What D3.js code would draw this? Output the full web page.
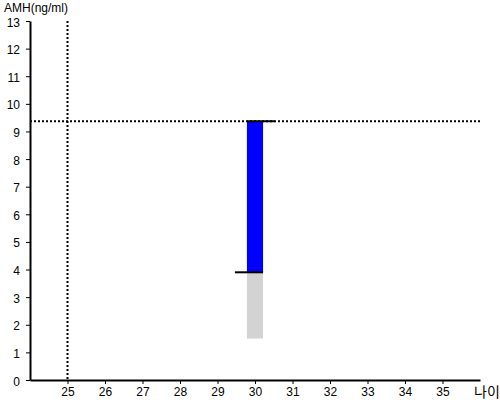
<!DOCTYPE html>
<html>
<head>
<meta charset="utf-8">
<script src="https://cdn.jsdelivr.net/npm/d3@7"></script>
<style>
  body { margin: 0; background: #fff; }
  text { font-family: "Liberation Sans", Arial, sans-serif; }
</style>
</head>
<body>
<script>
// chart values
var ages = [30];
var amhLow = [3.9];      // top of grey bar / start of blue
var amhHigh = [9.37];    // top of blue bar
var greyBottom = [1.5];
var refAge = 25;
var refAmh = 9.37;
var yTicks = [0, 1, 2, 3, 4, 5, 6, 7, 8, 9, 10, 11, 12, 13];
var xTicks = [25, 26, 27, 28, 29, 30, 31, 32, 33, 34, 35];

var w = 500, h = 400;
var svg = d3.select("body").append("svg")
    .attr("width", w)
    .attr("height", h);

var x = d3.scaleLinear().domain([24, 36]).range([30, 480]);
var y = d3.scaleLinear().domain([0, 13]).range([380, 21]);

var barW = x(30.215) - x(29.785);
var capW = x(30.32) - x(30);

// grey bar
svg.selectAll("rect.grey")
    .data(ages)
    .enter()
    .append("rect")
    .attr("class", "grey")
    .attr("x", function(d) { return x(d) - barW / 2; })
    .attr("y", function(d, i) { return y(amhLow[i]); })
    .attr("width", barW)
    .attr("height", function(d, i) { return y(greyBottom[i]) - y(amhLow[i]); })
    .attr("fill", "#d3d3d3");

// blue bar
svg.selectAll("rect.blue")
    .data(ages)
    .enter()
    .append("rect")
    .attr("class", "blue")
    .attr("x", function(d) { return x(d) - barW / 2; })
    .attr("y", function(d, i) { return y(amhHigh[i]); })
    .attr("width", barW)
    .attr("height", function(d, i) { return y(amhLow[i]) - y(amhHigh[i]); })
    .attr("fill", "#0000ff");

// reference dotted lines
svg.append("line")
    .attr("x1", x(24)).attr("x2", x(36))
    .attr("y1", y(refAmh)).attr("y2", y(refAmh))
    .attr("stroke", "#000").attr("stroke-width", 2)
    .attr("stroke-dasharray", "2,2");
svg.append("line")
    .attr("x1", x(refAge)).attr("x2", x(refAge))
    .attr("y1", y(13)).attr("y2", y(0))
    .attr("stroke", "#000").attr("stroke-width", 2)
    .attr("stroke-dasharray", "2,2");

// caps: top one goes right, bottom one goes left
ages.forEach(function(d, i) {
    svg.append("line")
        .attr("x1", x(d) - barW / 2).attr("x2", x(d) + barW / 2 + capW)
        .attr("y1", y(amhHigh[i])).attr("y2", y(amhHigh[i]))
        .attr("stroke", "#000").attr("stroke-width", 2);
    svg.append("line")
        .attr("x1", x(d) - barW / 2 - capW).attr("x2", x(d) + barW / 2)
        .attr("y1", y(amhLow[i])).attr("y2", y(amhLow[i]))
        .attr("stroke", "#000").attr("stroke-width", 2);
});

// axes
var yAxis = d3.axisLeft(y).tickValues(yTicks).tickSize(4).tickPadding(6).tickSizeOuter(0);
var xAxis = d3.axisBottom(x).tickValues(xTicks).tickSize(4).tickPadding(3).tickSizeOuter(0);

var gy = svg.append("g").attr("transform", "translate(30,0)").call(yAxis);
var gx = svg.append("g").attr("transform", "translate(0,380)").call(xAxis);
[gy, gx].forEach(function(g) {
    g.selectAll("text").style("font-size", "12px").attr("fill", "#000")
        .style("font-family", "'Liberation Sans', Arial, sans-serif");
    g.select(".domain").attr("stroke", "#000").attr("stroke-width", 2);
    g.selectAll(".tick line").attr("stroke", "#000");
});
gy.selectAll("text").attr("dy", "0.42em");

svg.append("text")
    .attr("x", 4).attr("y", 12)
    .style("font-size", "12px")
    .text("AMH(ng/ml)");
svg.append("text")
    .attr("x", 474).attr("y", 397)
    .style("font-size", "14px")
    .style("font-family", "'Noto Sans CJK KR', sans-serif")
    .text("나이");
</script>
</body>
</html>
